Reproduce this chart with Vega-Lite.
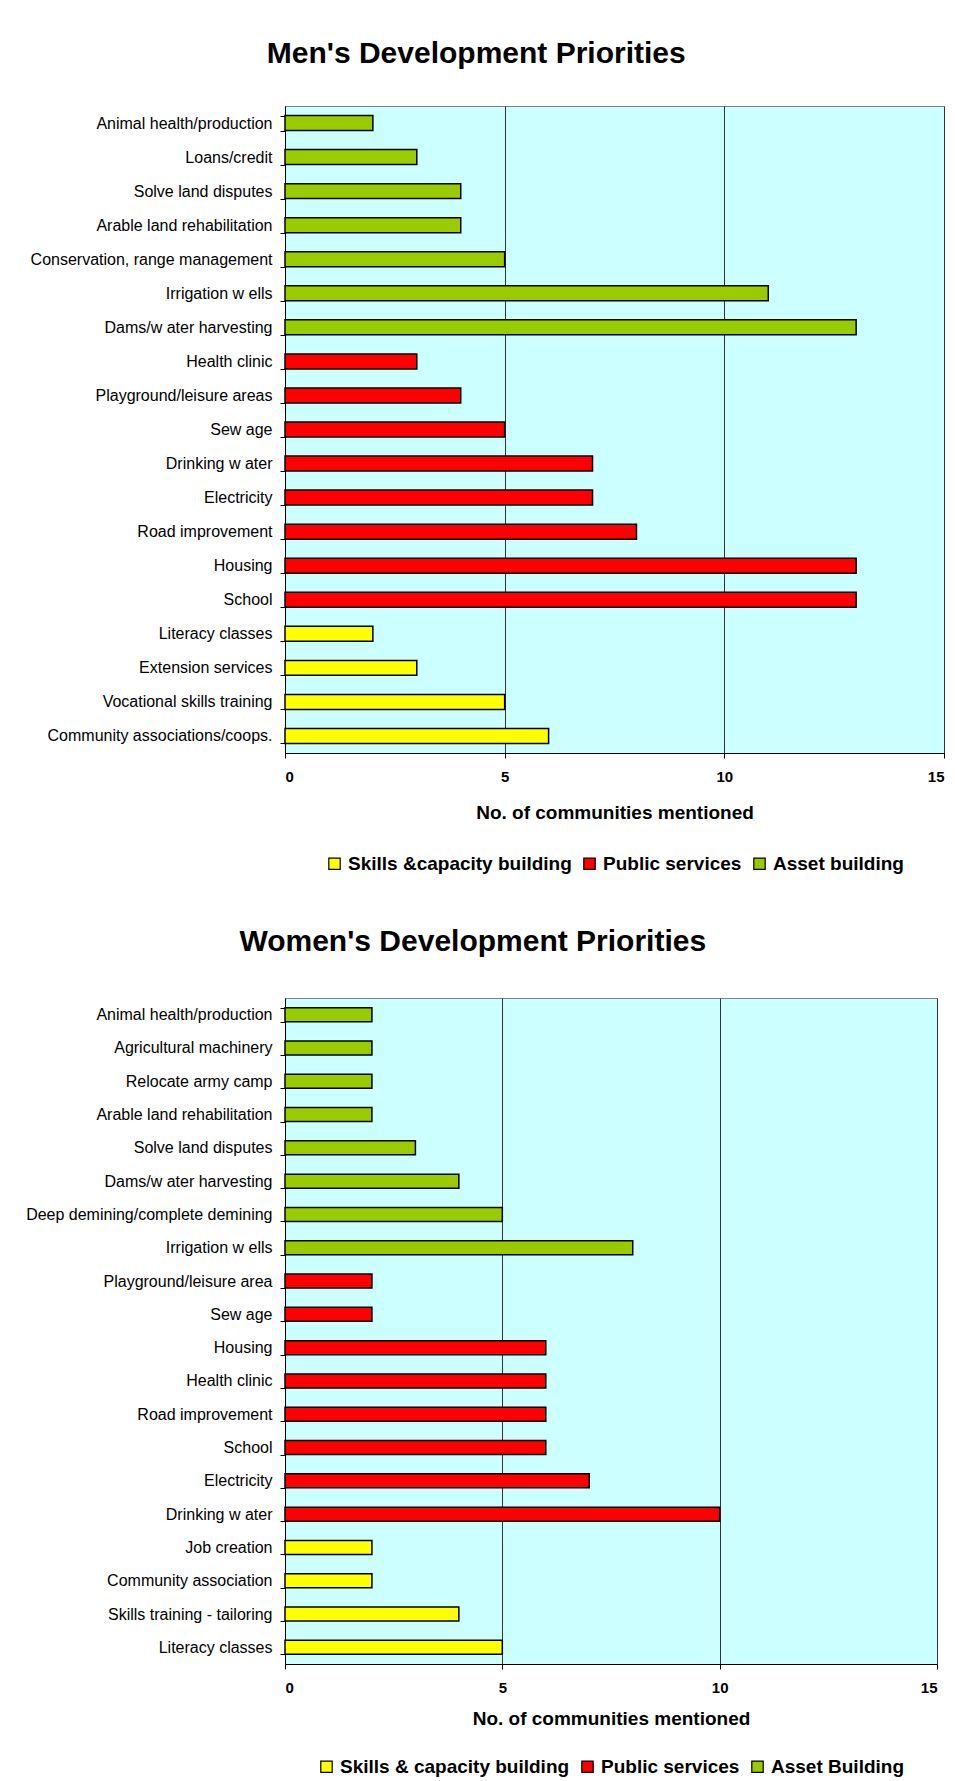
{
  "$schema": "https://vega.github.io/schema/vega-lite/v6.json",
  "background": "white",
  "padding": {"left": 7, "top": 38, "right": 4, "bottom": 0},
  "spacing": 51,
  "config": {
    "font": "Liberation Sans",
    "view": {"fill": "#CCFFFF", "stroke": "#808080", "strokeWidth": 1},
    "axis": {
      "domainColor": "black",
      "domainWidth": 1,
      "tickColor": "black",
      "tickSize": 5,
      "tickWidth": 1,
      "labelColor": "black",
      "titleColor": "black"
    },
    "legend": {
      "layout": {"bottom": {"anchor": "middle"}}
    },
    "title": {"color": "black"}
  },
  "resolve": {"scale": {"color": "independent"}, "legend": {"color": "independent"}},
  "vconcat": [
    {
      "title": {"text": "Men's Development Priorities", "frame": "bounds", "anchor": "middle", "offset": 29, "fontSize": 30, "fontWeight": "bold"},
      "width": 659,
      "height": 647,
      "data": {"values": [
        {"item": "Animal health/production", "count": 2, "category": "Asset building"},
        {"item": "Loans/credit", "count": 3, "category": "Asset building"},
        {"item": "Solve land disputes", "count": 4, "category": "Asset building"},
        {"item": "Arable land rehabilitation", "count": 4, "category": "Asset building"},
        {"item": "Conservation, range management", "count": 5, "category": "Asset building"},
        {"item": "Irrigation w ells", "count": 11, "category": "Asset building"},
        {"item": "Dams/w ater harvesting", "count": 13, "category": "Asset building"},
        {"item": "Health clinic", "count": 3, "category": "Public services"},
        {"item": "Playground/leisure areas", "count": 4, "category": "Public services"},
        {"item": "Sew age", "count": 5, "category": "Public services"},
        {"item": "Drinking w ater", "count": 7, "category": "Public services"},
        {"item": "Electricity", "count": 7, "category": "Public services"},
        {"item": "Road improvement", "count": 8, "category": "Public services"},
        {"item": "Housing", "count": 13, "category": "Public services"},
        {"item": "School", "count": 13, "category": "Public services"},
        {"item": "Literacy classes", "count": 2, "category": "Skills &capacity building"},
        {"item": "Extension services", "count": 3, "category": "Skills &capacity building"},
        {"item": "Vocational skills training", "count": 5, "category": "Skills &capacity building"},
        {"item": "Community associations/coops.", "count": 6, "category": "Skills &capacity building"}
      ]},
      "mark": {"type": "bar", "stroke": "black", "strokeWidth": 1.5},
      "encoding": {
        "y": {
          "field": "item", "type": "nominal", "sort": null,
          "scale": {"paddingInner": 0.56, "paddingOuter": 0.28},
          "axis": {"title": null, "tickBand": "extent", "grid": false, "labelFontSize": 16, "labelPadding": 8, "minExtent": 277, "maxExtent": 277, "labelLimit": 300}
        },
        "x": {
          "field": "count", "type": "quantitative",
          "scale": {"domain": [0, 15], "nice": false},
          "axis": {"values": [0, 5, 10, 15], "title": "No. of communities mentioned", "grid": true, "gridColor": "#333333", "gridWidth": 1, "labelFontSize": 15, "labelFontWeight": "bold", "labelPadding": 11, "titleFontSize": 19, "titleFontWeight": "bold", "titlePadding": 19}
        },
        "color": {
          "field": "category", "type": "nominal",
          "scale": {"domain": ["Skills &capacity building", "Public services", "Asset building"], "range": ["#FFFF00", "#FF0000", "#99CC00"]},
          "legend": {"title": null, "orient": "bottom", "direction": "horizontal", "offset": 32, "symbolType": "square", "symbolSize": 130, "symbolStrokeColor": "black", "symbolStrokeWidth": 1.2, "labelFontSize": 19, "labelFontWeight": "bold", "labelColor": "black", "labelOffset": 4, "columnPadding": 8, "labelLimit": 400}
        }
      }
    },
    {
      "title": {"text": "Women's Development Priorities", "frame": "bounds", "anchor": "middle", "offset": 33, "fontSize": 30, "fontWeight": "bold"},
      "width": 652,
      "height": 666,
      "data": {"values": [
        {"item": "Animal health/production", "count": 2, "category": "Asset Building"},
        {"item": "Agricultural machinery", "count": 2, "category": "Asset Building"},
        {"item": "Relocate army camp", "count": 2, "category": "Asset Building"},
        {"item": "Arable land rehabilitation", "count": 2, "category": "Asset Building"},
        {"item": "Solve land disputes", "count": 3, "category": "Asset Building"},
        {"item": "Dams/w ater harvesting", "count": 4, "category": "Asset Building"},
        {"item": "Deep demining/complete demining", "count": 5, "category": "Asset Building"},
        {"item": "Irrigation w ells", "count": 8, "category": "Asset Building"},
        {"item": "Playground/leisure area", "count": 2, "category": "Public services"},
        {"item": "Sew age", "count": 2, "category": "Public services"},
        {"item": "Housing", "count": 6, "category": "Public services"},
        {"item": "Health clinic", "count": 6, "category": "Public services"},
        {"item": "Road improvement", "count": 6, "category": "Public services"},
        {"item": "School", "count": 6, "category": "Public services"},
        {"item": "Electricity", "count": 7, "category": "Public services"},
        {"item": "Drinking w ater", "count": 10, "category": "Public services"},
        {"item": "Job creation", "count": 2, "category": "Skills & capacity building"},
        {"item": "Community association", "count": 2, "category": "Skills & capacity building"},
        {"item": "Skills training - tailoring", "count": 4, "category": "Skills & capacity building"},
        {"item": "Literacy classes", "count": 5, "category": "Skills & capacity building"}
      ]},
      "mark": {"type": "bar", "stroke": "black", "strokeWidth": 1.5},
      "encoding": {
        "y": {
          "field": "item", "type": "nominal", "sort": null,
          "scale": {"paddingInner": 0.58, "paddingOuter": 0.29},
          "axis": {"title": null, "tickBand": "extent", "grid": false, "labelFontSize": 16, "labelPadding": 8, "minExtent": 277, "maxExtent": 277, "labelLimit": 300}
        },
        "x": {
          "field": "count", "type": "quantitative",
          "scale": {"domain": [0, 15], "nice": false},
          "axis": {"values": [0, 5, 10, 15], "title": "No. of communities mentioned", "grid": true, "gridColor": "#333333", "gridWidth": 1, "labelFontSize": 15, "labelFontWeight": "bold", "labelPadding": 11, "titleFontSize": 19, "titleFontWeight": "bold", "titlePadding": 14}
        },
        "color": {
          "field": "category", "type": "nominal",
          "scale": {"domain": ["Skills & capacity building", "Public services", "Asset Building"], "range": ["#FFFF00", "#FF0000", "#99CC00"]},
          "legend": {"title": null, "orient": "bottom", "direction": "horizontal", "offset": 29, "symbolType": "square", "symbolSize": 130, "symbolStrokeColor": "black", "symbolStrokeWidth": 1.2, "labelFontSize": 19, "labelFontWeight": "bold", "labelColor": "black", "labelOffset": 4, "columnPadding": 8, "labelLimit": 400}
        }
      }
    }
  ]
}
